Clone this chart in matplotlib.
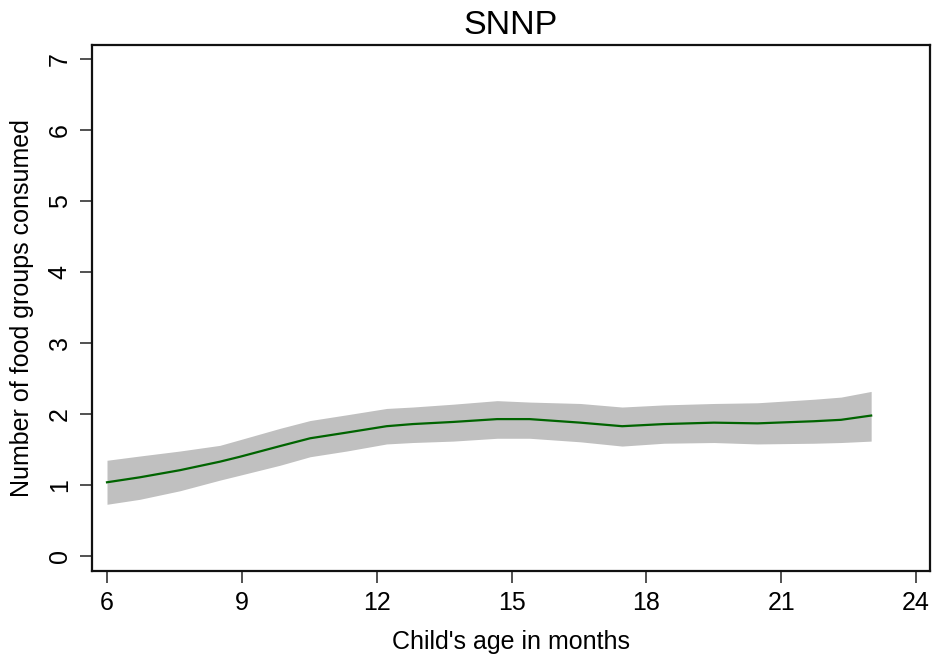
import matplotlib
matplotlib.use("Agg")
import matplotlib.pyplot as plt

# values (lowess-style smooth with 95% band)
months = [6, 6.73, 7.62, 8.51, 8.96, 9.85, 10.52, 11.33, 12.22, 12.8, 13.7,
          14.68, 15.4, 16.53, 17.46, 18.39, 19.5, 20.47, 21.73, 22.33, 23]
mean_groups = [1.04, 1.11, 1.21, 1.33, 1.40, 1.55, 1.66, 1.74, 1.83, 1.86, 1.89,
               1.93, 1.93, 1.88, 1.83, 1.86, 1.88, 1.87, 1.90, 1.92, 1.98]
upper_ci = [1.35, 1.41, 1.48, 1.56, 1.64, 1.80, 1.91, 1.99, 2.08, 2.10, 2.14,
            2.19, 2.17, 2.15, 2.10, 2.13, 2.15, 2.16, 2.21, 2.24, 2.32]
lower_ci = [0.73, 0.80, 0.92, 1.07, 1.14, 1.28, 1.40, 1.48, 1.58, 1.60, 1.62,
            1.66, 1.66, 1.61, 1.55, 1.59, 1.60, 1.58, 1.59, 1.60, 1.62]
x_ticks = [6, 9, 12, 15, 18, 21, 24]
y_ticks = [0, 1, 2, 3, 4, 5, 6, 7]

plt.rcParams['font.family'] = ['Liberation Sans', 'DejaVu Sans']

fig = plt.figure(figsize=(9.32, 6.58), dpi=100)
ax = fig.add_axes([0.0987, 0.1322, 0.8992, 0.7994])

ax.fill_between(months, lower_ci, upper_ci, color='#c0c0c0', linewidth=0)
ax.plot(months, mean_groups, color='#006400', linewidth=1.6)

ax.set_xlim(5.666, 24.31)
ax.set_ylim(-0.21, 7.2)
ax.set_xticks(x_ticks)
ax.set_yticks(y_ticks)
ax.tick_params(axis='both', length=8.5, width=1.1, labelsize=18, color='#222222')
ax.tick_params(axis='x', pad=6)
ax.tick_params(axis='y', pad=6)
for lab in ax.get_yticklabels():
    lab.set_rotation(90)
    lab.set_va('center')

for s in ax.spines.values():
    s.set_linewidth(1.6)
    s.set_color('#111111')

ax.set_title('SNNP', fontsize=24.5, pad=8)
ax.set_xlabel("Child's age in months", fontsize=18, labelpad=11)
ax.set_ylabel('Number of food groups consumed', fontsize=18, labelpad=10)

fig.savefig('out.png', dpi=100)
